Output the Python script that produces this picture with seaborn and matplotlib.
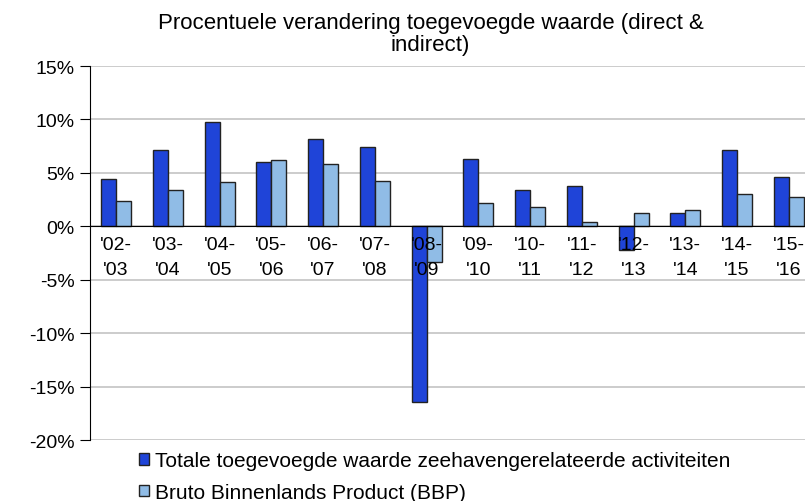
import numpy as np
import pandas as pd
import matplotlib
matplotlib.use("Agg")
import matplotlib.pyplot as plt
import seaborn as sns
from matplotlib.patches import Patch
from matplotlib.ticker import FixedLocator, PercentFormatter

# --- data ---
periods = ["'02-\n'03", "'03-\n'04", "'04-\n'05", "'05-\n'06", "'06-\n'07", "'07-\n'08", "'08-\n'09",
           "'09-\n'10", "'10-\n'11", "'11-\n'12", "'12-\n'13", "'13-\n'14", "'14-\n'15", "'15-\n'16"]
haven = [4.4, 7.1, 9.8, 6.0, 8.2, 7.4, -16.4, 6.3, 3.4, 3.8, -2.2, 1.2, 7.1, 4.6]
bbp = [2.4, 3.4, 4.1, 6.2, 5.8, 4.2, -3.3, 2.2, 1.8, 0.4, 1.2, 1.5, 3.0, 2.7]
series_names = ["Totale toegevoegde waarde zeehavengerelateerde activiteiten",
                "Bruto Binnenlands Product (BBP)"]
title = "Procentuele verandering toegevoegde waarde (direct &\nindirect)"

df = pd.DataFrame({
    "periode": periods * 2,
    "waarde": haven + bbp,
    "reeks": [series_names[0]] * len(periods) + [series_names[1]] * len(periods),
})

sns.set_style("white")
plt.rcParams["font.family"] = ["Liberation Sans", "DejaVu Sans"]
plt.rcParams["axes.unicode_minus"] = False
plt.rcParams["text.color"] = "black"
plt.rcParams["xtick.color"] = "black"
plt.rcParams["ytick.color"] = "black"

kleuren = ["#1f44d8", "#90bce6"]

fig = plt.figure(figsize=(8.05, 5.02), dpi=100)
ax = fig.add_axes([0.112, 0.1215, 0.9, 0.745])

sns.barplot(data=df, x="periode", y="waarde", hue="reeks", palette=kleuren, saturation=1,
            width=0.58, edgecolor="#222222", linewidth=1.0, ax=ax, legend=False, zorder=2)

ax.set_ylim(-20, 15)
ax.set_xlim(-0.5, len(periods) - 0.5)
ax.set_yticks(np.arange(-20, 16, 5))
ax.yaxis.set_major_formatter(PercentFormatter(decimals=0))
ax.yaxis.grid(True, color="#c8c8c8", linewidth=1.3)
ax.yaxis.set_zorder(0.5)
ax.xaxis.set_zorder(4)  # labels boven de balken, zoals in het origineel

# x-as op de nullijn
ax.spines["bottom"].set_position(("data", 0))
ax.spines["bottom"].set_color("black")
ax.spines["bottom"].set_zorder(3)
ax.spines["left"].set_color("black")
ax.spines["top"].set_visible(False)
ax.spines["right"].set_visible(False)
ax.xaxis.set_minor_locator(FixedLocator(np.arange(0.5, len(periods) - 0.5, 1)))
ax.tick_params(axis="x", which="major", length=0, labelsize=14, pad=7)
ax.tick_params(axis="x", which="minor", length=4, direction="out", color="black")
ax.tick_params(axis="y", length=7, direction="out", color="black", labelsize=14, left=True, pad=4)
for lbl in ax.get_xticklabels():
    lbl.set_linespacing(1.65)

ax.set_xlabel("")
ax.set_ylabel("")

fig.text(0.535, 0.975, title, ha="center", va="top", fontsize=16, linespacing=1.1)

handles = [Patch(facecolor=kleuren[i], edgecolor="#222222", label=series_names[i]) for i in range(2)]
fig.legend(handles=handles, loc="upper left", bbox_to_anchor=(0.155, 0.128), frameon=False,
           fontsize=15, handlelength=0.45, handleheight=0.45, handletextpad=0.3, labelspacing=0.6,
           borderpad=0.2)

plt.savefig("out.png", dpi=100)
